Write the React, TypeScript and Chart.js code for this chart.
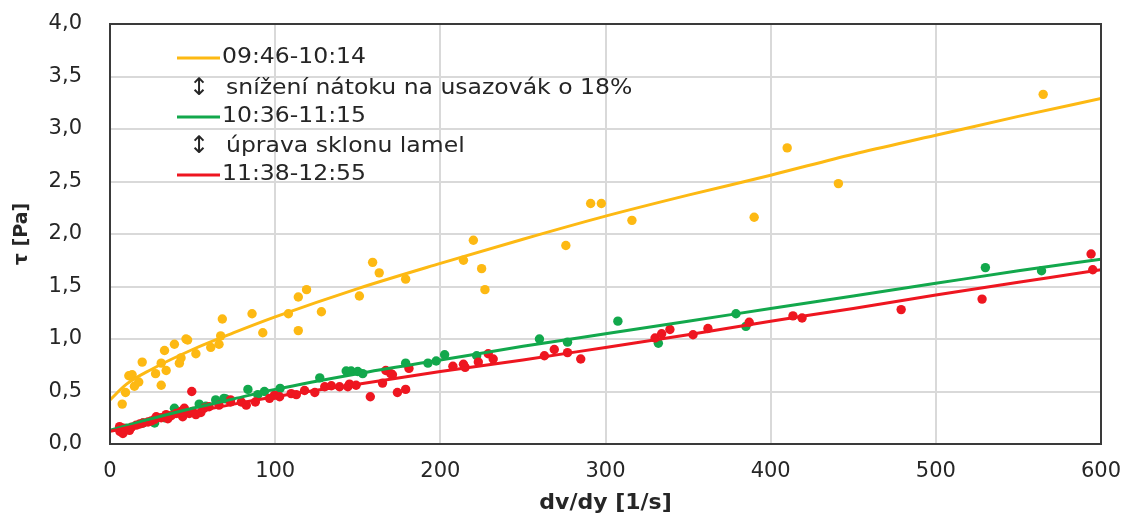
import React, { useEffect, useRef } from 'react';
import { Chart, registerables } from 'chart.js';

Chart.register(...registerables);

// ---- data ----
const xTickValues = [0, 100, 200, 300, 400, 500, 600];
const yTickValues = [0, 0.5, 1, 1.5, 2, 2.5, 3, 3.5, 4];

const legendLabels = [
  '09:46-10:14',
  'snížení nátoku na usazovák o 18%',
  '10:36-11:15',
  'úprava sklonu lamel',
  '11:38-12:55',
];

const yellowPoints: [number, number][] = [
  [7.4, 0.38], [9.4, 0.49], [11.4, 0.65], [13.4, 0.66], [14.8, 0.55], [17.4, 0.59],
  [19.5, 0.78], [27.6, 0.67], [31, 0.56], [31, 0.77], [33, 0.89], [34, 0.7],
  [39, 0.95], [42, 0.77], [43, 0.82], [46, 1.0], [47, 0.99], [52, 0.86],
  [61, 0.92], [66, 0.95], [67, 1.03], [68, 1.19], [86, 1.24], [92.5, 1.06],
  [108, 1.24], [114, 1.4], [119, 1.47], [114, 1.08], [128, 1.26], [151, 1.41],
  [159, 1.73], [163, 1.63], [179, 1.57], [214, 1.75], [220, 1.94], [225, 1.67],
  [227, 1.47], [276, 1.89], [291, 2.29], [297.5, 2.29], [316, 2.13], [390, 2.16],
  [410, 2.82], [441, 2.48], [565, 3.33],
];

const greenPoints: [number, number][] = [
  [10, 0.15], [20, 0.2], [27, 0.2], [33, 0.25], [39, 0.34], [45, 0.3],
  [54, 0.38], [58, 0.36], [64, 0.42], [69, 0.435], [70, 0.43], [83.5, 0.52],
  [89.5, 0.47], [93.5, 0.5], [103, 0.53], [127, 0.63], [143, 0.695], [146, 0.695],
  [150, 0.69], [153, 0.67], [179, 0.77], [192.5, 0.77], [197.5, 0.79], [202.6, 0.85],
  [222, 0.84], [260, 1.0], [277, 0.97], [307.5, 1.17], [332, 0.96], [379, 1.24],
  [385, 1.12], [530, 1.68], [564, 1.65],
];

const redPoints: [number, number][] = [
  [5.8, 0.165], [7.8, 0.1], [6, 0.12], [8, 0.15], [9, 0.14], [11.8, 0.13],
  [13, 0.16], [15.9, 0.18], [18, 0.19], [20, 0.2], [23, 0.21], [25, 0.22],
  [27, 0.235], [28, 0.26], [31, 0.25], [34, 0.28], [35, 0.24], [37, 0.27],
  [40, 0.29], [43, 0.31], [44, 0.26], [45, 0.34], [48, 0.29], [49.5, 0.5],
  [50, 0.31], [52, 0.28], [55, 0.3], [57, 0.34], [60, 0.355], [66, 0.37],
  [73, 0.4], [73, 0.42], [79.5, 0.4], [82.5, 0.37], [88, 0.4], [96.6, 0.435],
  [99.6, 0.465], [102.7, 0.45], [109.7, 0.48], [112.8, 0.47], [117.8, 0.51], [124, 0.49],
  [130, 0.545], [134, 0.555], [139, 0.545], [144, 0.545], [145, 0.57], [149, 0.56],
  [157.6, 0.45], [165, 0.58], [167, 0.7], [170, 0.67], [171, 0.66], [174, 0.49],
  [179, 0.52], [181, 0.72], [207.6, 0.74], [214, 0.76], [215, 0.73], [223, 0.78],
  [229, 0.86], [232, 0.81], [263, 0.84], [269, 0.9], [277, 0.87], [285, 0.81],
  [330, 1.01], [334, 1.05], [339, 1.09], [353, 1.04], [362, 1.1], [387, 1.16],
  [413.5, 1.22], [419, 1.2], [479, 1.28], [528, 1.38], [594, 1.81], [595, 1.66],
];

const fitX = [0, 10, 25, 50, 75, 100, 150, 200, 250, 300, 350, 400, 450, 500, 550, 600];
const yellowFit = [0.42, 0.57, 0.71, 0.9, 1.06, 1.21, 1.48, 1.72, 1.95, 2.17, 2.37, 2.56, 2.76, 2.94, 3.12, 3.29];
const greenFit = [0.13, 0.175, 0.24, 0.34, 0.43, 0.52, 0.67, 0.8, 0.93, 1.05, 1.17, 1.29, 1.41, 1.53, 1.65, 1.76];
const redFit = [0.12, 0.155, 0.21, 0.3, 0.38, 0.45, 0.57, 0.69, 0.8, 0.92, 1.04, 1.17, 1.29, 1.42, 1.54, 1.66];

// ---- styles ----
const YELLOW = '#FDB913';
const GREEN = '#12A84C';
const RED = '#EE1620';
const GRID = '#d9d9d9';
const AXIS = '#3a3a3a';
const TEXT = '#262626';
const FONT = '"DejaVu Sans", "Noto Sans", sans-serif';

const toXY = (pts: [number, number][]) => pts.map(([x, y]) => ({ x, y }));
const fitXY = (vals: number[]) => fitX.map((x, i) => ({ x, y: vals[i] }));

const legendPlugin = {
  id: 'customLegend',
  afterDatasetsDraw(chart: any) {
    const { ctx, chartArea } = chart;
    const left = chartArea.left;
    const top = chartArea.top;
    const rows = [
      { dy: 34, kind: 'line', color: YELLOW, text: legendLabels[0] },
      { dy: 65, kind: 'arrow', text: legendLabels[1] },
      { dy: 93, kind: 'line', color: GREEN, text: legendLabels[2] },
      { dy: 123, kind: 'arrow', text: legendLabels[3] },
      { dy: 151, kind: 'line', color: RED, text: legendLabels[4] },
    ];
    ctx.save();
    ctx.font = `21px ${FONT}`;
    ctx.textBaseline = 'middle';
    ctx.fillStyle = TEXT;
    const drawStretched = (text: string, x: number, y: number) => {
      ctx.save();
      ctx.translate(x, y);
      ctx.scale(1.12, 1);
      ctx.textAlign = 'left';
      ctx.fillText(text, 0, 0);
      ctx.restore();
    };
    for (const r of rows) {
      const y = top + r.dy;
      if (r.kind === 'line') {
        ctx.strokeStyle = r.color;
        ctx.lineWidth = 3;
        ctx.beginPath();
        ctx.moveTo(left + 67, y);
        ctx.lineTo(left + 110, y);
        ctx.stroke();
        drawStretched(r.text, left + 112, y);
      } else {
        ctx.save();
        ctx.font = `24px ${FONT}`;
        ctx.textAlign = 'center';
        ctx.fillText('↕', left + 89, y);
        ctx.restore();
        drawStretched(r.text, left + 116, y);
      }
    }
    ctx.restore();
  },
};

const boxPlugin = {
  id: 'plotBox',
  afterDraw(chart: any) {
    const { ctx, chartArea } = chart;
    ctx.save();
    ctx.strokeStyle = AXIS;
    ctx.lineWidth = 2;
    ctx.strokeRect(chartArea.left, chartArea.top, chartArea.right - chartArea.left, chartArea.bottom - chartArea.top);
    ctx.restore();
  },
};

export default function App() {
  const canvasRef = useRef<HTMLCanvasElement | null>(null);

  useEffect(() => {
    if (!canvasRef.current) return;
    const lineDs = (vals: number[], color: string, order: number) => ({
      type: 'line' as const,
      data: fitXY(vals),
      borderColor: color,
      borderWidth: 3,
      pointRadius: 0,
      fill: false,
      tension: 0.4,
      cubicInterpolationMode: 'monotone' as const,
      order,
    });
    const pointDs = (pts: [number, number][], color: string, order: number) => ({
      type: 'scatter' as const,
      data: toXY(pts),
      backgroundColor: color,
      borderColor: color,
      borderWidth: 0,
      pointRadius: 4.7,
      showLine: false,
      order,
    });

    const chart = new Chart(canvasRef.current, {
      type: 'scatter',
      data: {
        datasets: [
          lineDs(yellowFit, YELLOW, 1),
          lineDs(greenFit, GREEN, 2),
          lineDs(redFit, RED, 0),
          pointDs(redPoints, RED, 3),
          pointDs(greenPoints, GREEN, 4),
          pointDs(yellowPoints, YELLOW, 5),
        ] as any,
      },
      options: {
        animation: false,
        responsive: true,
        maintainAspectRatio: false,
        layout: { padding: { top: 24, right: 26, left: 0, bottom: 0 } },
        plugins: {
          legend: { display: false },
          tooltip: { enabled: false },
        },
        scales: {
          x: {
            type: 'linear',
            min: 0,
            max: 600,
            afterBuildTicks: (s: any) => { s.ticks = xTickValues.map((v) => ({ value: v })); },
            ticks: {
              font: { family: FONT, size: 21 },
              color: TEXT,
              padding: 0,
              callback: (v: any) => String(v),
            },
            grid: { color: GRID, lineWidth: 2, drawTicks: true, tickLength: 15, tickColor: 'rgba(0,0,0,0)' },
            border: { display: true, color: AXIS, width: 2 },
            title: {
              display: true,
              text: 'dv/dy [1/s]',
              color: TEXT,
              font: { family: FONT, size: 22, weight: 'bold' },
              padding: { top: 0, bottom: 1 },
            },
            afterFit: (s: any) => { s.height = 73; },
          },
          y: {
            type: 'linear',
            min: 0,
            max: 4,
            afterBuildTicks: (s: any) => { s.ticks = yTickValues.map((v) => ({ value: v })); },
            ticks: {
              font: { family: FONT, size: 21 },
              color: TEXT,
              padding: 0,
              callback: (v: any) => Number(v).toFixed(1).replace('.', ','),
            },
            grid: { color: GRID, lineWidth: 2, drawTicks: true, tickLength: 28, tickColor: 'rgba(0,0,0,0)' },
            border: { display: true, color: AXIS, width: 2 },
            title: {
              display: true,
              text: 'τ [Pa]',
              color: TEXT,
              font: { family: FONT, size: 19, weight: 'bold' },
              padding: { top: 11, bottom: 0 },
            },
            afterFit: (s: any) => { s.width = 110; },
          },
        },
      } as any,
      plugins: [legendPlugin, boxPlugin],
    });
    return () => chart.destroy();
  }, []);

  return (
    <div style={{ position: 'fixed', left: 0, top: 0, width: 1127, height: 517, background: '#fff' }}>
      <canvas ref={canvasRef} />
    </div>
  );
}
